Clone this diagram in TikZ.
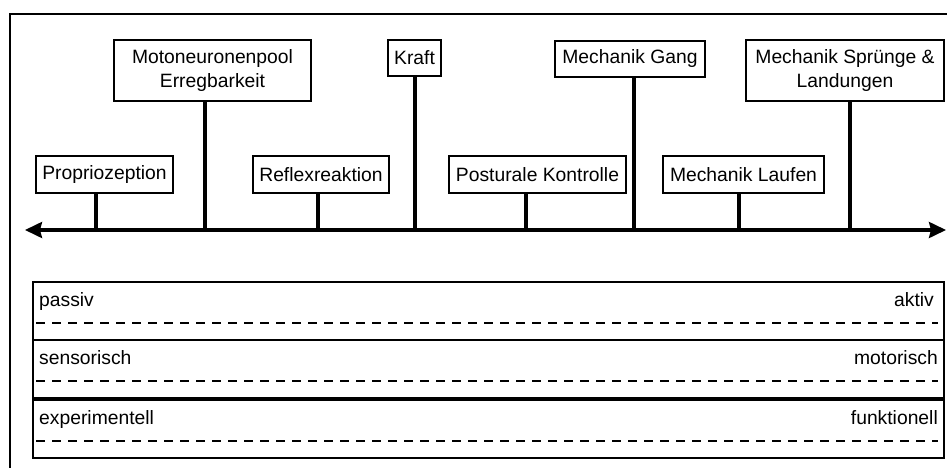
\documentclass[tikz,border=0pt]{standalone}
\usepackage{fontspec}
\setmainfont{Liberation Sans}
\usetikzlibrary{arrows.meta}

\begin{document}
\begin{tikzpicture}[x=1pt,
            y=-1pt,
            >={Stealth[length=17pt,width=16pt,inset=2pt]},
            font=\fontsize{19.3pt}{23.5pt}\selectfont,
            box/.style={draw,line width=2pt,align=center,inner sep=0pt,minimum height=37pt},
            tall/.style={box,minimum height=61pt},
            stem/.style={line width=3.2pt},
            band/.style={draw,line width=2pt,minimum width=911pt,minimum height=58pt,inner sep=0pt},
            strich/.style={line width=1.6pt,dash pattern=on 9pt off 7pt}]

        \useasboundingbox (0,0) rectangle (947,468);
        \draw[line width=2pt] (947,14) -- (10,14) -- (10,468);

        \node[box,minimum width=137pt]                   (prop)   at (104.5,174.5) {Propriozeption};
        \node[tall,minimum width=197pt]                  (moto)   at (212.5,70.5)  {Motoneuronenpool\\Erregbarkeit};
        \node[box,minimum width=136pt]                   (refl)   at (321,174.5)   {Reflexreaktion};
        \node[box,minimum width=53pt,minimum height=36pt]  (kraft)  at (414.5,58)    {Kraft};
        \node[box,minimum width=177pt]                   (post)   at (537.5,174.5) {Posturale Kontrolle};
        \node[box,minimum width=150pt,minimum height=36pt] (gang)   at (630,59)      {Mechanik Gang};
        \node[box,minimum width=161pt]                   (lauf)   at (743.5,174.5) {Mechanik Laufen};
        \node[tall,minimum width=198pt]                  (sprung) at (845,70.5)    {Mechanik Sprünge \&\\Landungen};

        \coordinate (links)  at (25,230);
        \coordinate (rechts) at (946,230);
        \draw[<->,line width=3.2pt] (links) -- (rechts);

        \foreach \n/\x in {prop/96,moto/205,refl/318,kraft/415,post/526,gang/634,lauf/739,sprung/850}
            \draw[stem] (\x,230) coordinate (\n-fuss) -- (\n-fuss |- \n.south);

        \node[band] (passiv) at (488.5,311) {};
        \node[band] (sens)   at (488.5,369) {};
        \node[band] (exp)    at (488.5,429) {};

        \foreach \b/\l/\r/\d in {passiv/passiv/aktiv/11pt,sens/sensorisch/motorisch/7pt,exp/experimentell/funktionell/7pt} {
            \node[anchor=base west,inner sep=0pt] at ([xshift=7pt,yshift=-25pt]\b.north west) {\l};
            \node[anchor=base east,inner sep=0pt] at ([xshift=-\d,yshift=-25pt]\b.north east) {\r};
            \draw[strich] ([xshift=4pt,yshift=-42pt]\b.north west) -- ([xshift=-7pt,yshift=-42pt]\b.north east);
        }

\end{tikzpicture}
\end{document}
